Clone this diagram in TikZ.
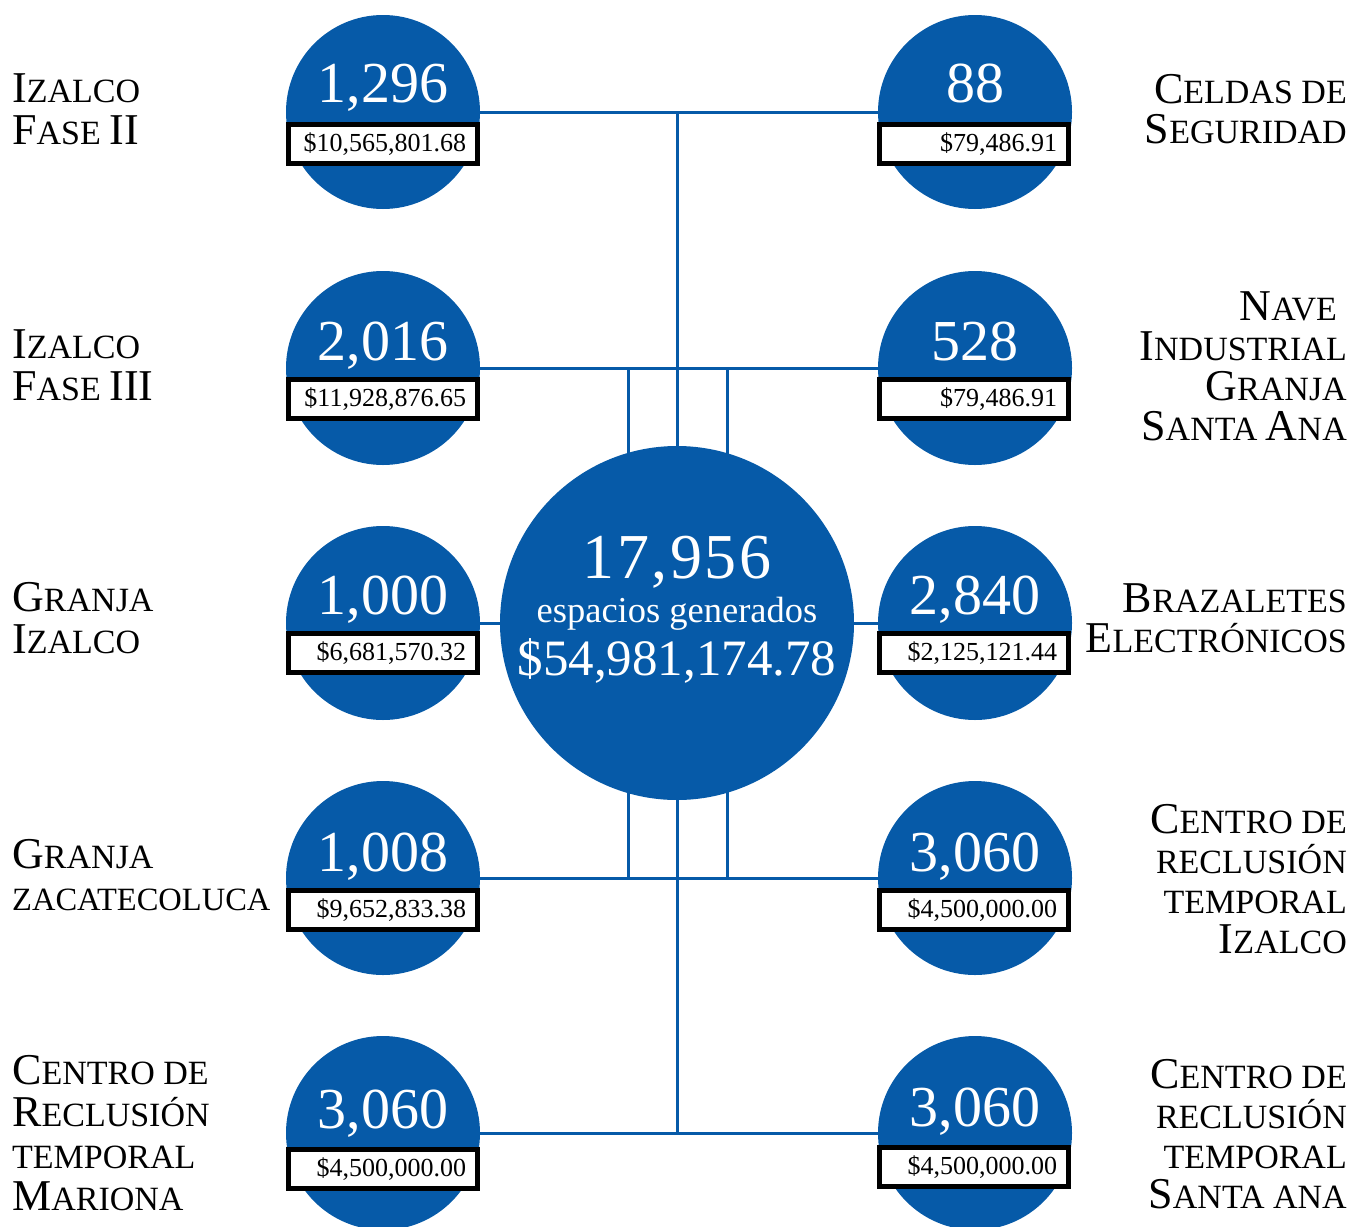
\documentclass[tikz,border=0pt]{standalone}
\usepackage{fontspec}
\setmainfont{Liberation Serif}
\newfontfamily\spacedfont[LetterSpace=4]{Liberation Serif}
\definecolor{azul}{RGB}{6,90,168}
\newcommand\Lg[1]{{\fontsize{44}{41}\selectfont #1}}
\pgfdeclarelayer{bg}
\pgfsetlayers{bg,main}
\begin{document}
\begin{tikzpicture}[x=1pt,y=-1pt,
  smallc/.style={circle,fill=azul,minimum size=194pt,inner sep=0pt},
  bigc/.style={circle,fill=azul,minimum size=354pt,inner sep=0pt},
  conn/.style={draw=azul,line width=3pt},
  amtbox/.style={draw=black,fill=white,line width=5pt,minimum width=189pt,minimum height=39pt,
    text width=166pt,align=right,inner xsep=11.5pt,inner ysep=0pt,font=\fontsize{26}{28}\selectfont},
  num/.style={anchor=base,text=white,inner sep=0pt,font=\fontsize{58}{60}\selectfont},
  labl/.style={anchor=base west,align=left,inner sep=0pt,font=\fontsize{34}{42}\selectfont},
  labr/.style={anchor=base east,align=right,inner sep=0pt,font=\fontsize{34}{40}\selectfont}]
\useasboundingbox (0,0) rectangle (1351,1226);

% circles
\node[bigc] (C) at (677,623) {};
\node[smallc] (L1) at (383,112) {};
\node[smallc] (L2) at (383,368) {};
\node[smallc] (L3) at (383,623) {};
\node[smallc] (L4) at (383,878) {};
\node[smallc] (L5) at (383,1133) {};
\node[smallc] (R1) at (975,112) {};
\node[smallc] (R2) at (975,368) {};
\node[smallc] (R3) at (975,623) {};
\node[smallc] (R4) at (975,878) {};
\node[smallc] (R5) at (975,1133) {};

% connectors
\begin{pgfonlayer}{bg}
\draw[conn] (L1) -- (R1);
\draw[conn] (C |- L1) -- (C);
\draw[conn] (L2) -- (R2);
\draw[conn] ([xshift=-49pt]C.center |- L2) -- ([xshift=-49pt]C.center);
\draw[conn] ([xshift=50pt]C.center |- L2) -- ([xshift=50pt]C.center);
\draw[conn] (L3) -- (R3);
\draw[conn] (L4) -- (R4);
\draw[conn] ([xshift=-49pt]C.center) -- ([xshift=-49pt]C.center |- L4);
\draw[conn] ([xshift=50pt]C.center) -- ([xshift=50pt]C.center |- L4);
\draw[conn] (C) -- (C |- L5);
\draw[conn] (L5) -- (R5);
\end{pgfonlayer}

% center text
\node[anchor=base,text=white,inner sep=0pt,font=\spacedfont\fontsize{64}{66}\selectfont] (cnum) at (677,578) {17,956};
\node[anchor=base,text=white,inner sep=0pt,font=\fontsize{36.5}{38}\selectfont] (ctxt) at (677,622) {espacios generados};
\node[anchor=base,text=white,inner sep=0pt,font=\fontsize{51}{53}\selectfont] (camt) at (677,675) {\$54,981,174.78};

% numbers
\node[num] (nL1) at (383,102) {1,296};
\node[num] (nL2) at (383,360) {2,016};
\node[num] (nL3) at (383,614) {1,000};
\node[num] (nL4) at (383,871) {1,008};
\node[num] (nL5) at (383,1128) {3,060};
\node[num] (nR1) at (975,102) {88};
\node[num] (nR2) at (975,360) {528};
\node[num] (nR3) at (975,614) {2,840};
\node[num] (nR4) at (975,871) {3,060};
\node[num] (nR5) at (975,1126) {3,060};

% amount boxes
\node[amtbox] (bL1) at (383,144) {\$10,565,801.68};
\node[amtbox] (bL2) at (383,399) {\$11,928,876.65};
\node[amtbox] (bL3) at (383,653) {\$6,681,570.32};
\node[amtbox] (bL4) at (383,910) {\$9,652,833.38};
\node[amtbox] (bL5) at (383,1169) {\$4,500,000.00};
\node[amtbox] (bR1) at (974,144) {\$79,486.91};
\node[amtbox] (bR2) at (974,399) {\$79,486.91};
\node[amtbox] (bR3) at (974,653) {\$2,125,121.44};
\node[amtbox] (bR4) at (974,910) {\$4,500,000.00};
\node[amtbox] (bR5) at (974,1167) {\$4,500,000.00};

% left labels (anchor = baseline of last line)
\node[labl] (tL1) at (12,144) {\Lg{I}ZALCO\\\Lg{F}ASE \Lg{II}};
\node[labl] (tL2) at (12,400) {\Lg{I}ZALCO\\\Lg{F}ASE \Lg{III}};
\node[labl] (tL3) at (12,653) {\Lg{G}RANJA\\\Lg{I}ZALCO};
\node[labl] (tL4) at (12,910) {\Lg{G}RANJA\\{\fontsize{32.5}{42}\selectfont ZACATECOLUCA}};
\node[labl] (tL5) at (12,1210) {\Lg{C}ENTRO DE\\\Lg{R}ECLUSIÓN\\TEMPORAL\\\Lg{M}ARIONA};

% right labels
\node[labr] (tR1) at (1347,143) {\Lg{C}ELDAS DE\\\Lg{S}EGURIDAD};
\node[labr] (tR2) at (1347,440) {\Lg{N}AVE\hspace*{10pt}\\\Lg{I}NDUSTRIAL\\\Lg{G}RANJA\\\Lg{S}ANTA \Lg{A}NA};
\node[labr] (tR3) at (1347,652) {\Lg{B}RAZALETES\\\Lg{E}LECTRÓNICOS};
\node[labr] (tR4) at (1347,953) {\Lg{C}ENTRO DE\\RECLUSIÓN\\TEMPORAL\\\Lg{I}ZALCO};
\node[labr] (tR5) at (1347,1208) {\Lg{C}ENTRO DE\\RECLUSIÓN\\TEMPORAL\\\Lg{S}ANTA ANA};
\end{tikzpicture}
\end{document}
